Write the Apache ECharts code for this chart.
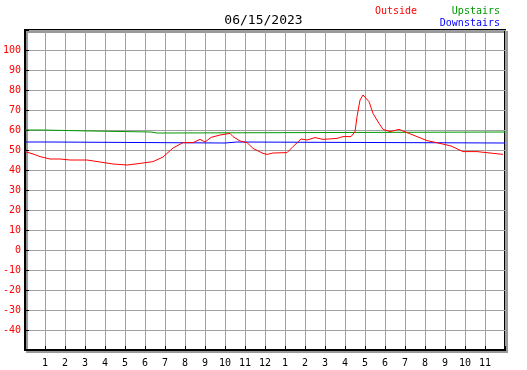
<!DOCTYPE html>
<html>
<head>
<meta charset="utf-8">
<script src="https://cdn.jsdelivr.net/npm/echarts@6/dist/echarts.min.js"></script>
<style>
  html, body { margin: 0; padding: 0; background: #fff; }
  #chart { width: 527px; height: 370px; }
</style>
</head>
<body>
<div id="chart"></div>
<script>
const chartDate = "06/15/2023";

// hours since midnight, temperature
const outsideHours = [0, 0.05, 0.4, 0.75, 1.25, 1.75, 2.25, 3.1, 3.75, 4.4, 5.1, 5.75, 6.4, 6.9, 7.4, 7.9, 8.4, 8.75, 9, 9.3, 9.75, 10.25, 10.4, 10.75, 11.1, 11.4, 11.9, 12.1, 12.4, 13.1, 13.4, 13.8, 14.1, 14.5, 14.9, 15.6, 15.9, 16.3, 16.5, 16.6, 16.75, 16.9, 17.2, 17.4, 17.7, 17.9, 18.25, 18.7, 19.1, 19.6, 20.1, 20.75, 21.3, 21.9, 22.6, 23.25, 23.9];
const outsideTemps = [49.2, 49.2, 48, 46.7, 45.5, 45.5, 45, 45, 44, 43, 42.5, 43.3, 44.2, 46.5, 51, 53.7, 53.7, 55.3, 54, 56.3, 57.5, 58.3, 56.7, 54.5, 53.7, 50.8, 48.3, 47.8, 48.5, 48.7, 51.7, 55.5, 55, 56.2, 55.3, 55.8, 56.7, 56.7, 59.2, 66.7, 75, 77.5, 74.2, 68.3, 63.3, 60.3, 59.2, 60.3, 58.7, 56.7, 54.7, 53.3, 52, 49.2, 49.2, 48.5, 47.8];

const upstairsHours = [0, 0.8, 0.8, 3.3, 3.3, 6.3, 6.4, 6.6, 6.9, 7, 24];
const upstairsTemps = [60, 60, 59.5, 59.5, 59, 59, 58.5, 58.5, 58.5, 59, 59];

const downstairsHours = [0, 1.25, 1.25, 10, 10, 10.6, 10.6, 24];
const downstairsTemps = [54, 54, 53.5, 53.5, 54, 54, 53.5, 53.5];

const yTickMin = -40;
const yTickMax = 100;

const pairs = (xs, ys) => xs.map((x, i) => [x, ys[i]]);

const chart = echarts.init(document.getElementById("chart"));
const mono = "DejaVu Sans Mono";

const option = {
  animation: false,
  backgroundColor: "#fff",
  title: [
    { text: chartDate, left: "center", top: 9, textStyle: { fontFamily: mono, fontSize: 13, fontWeight: "normal", color: "#000" } },
    { text: "Outside", left: 370, top: 1, textStyle: { fontFamily: mono, fontSize: 10, fontWeight: "normal", color: "#ff0000" } },
    { text: "Upstairs", right: 22, top: 1, textStyle: { fontFamily: mono, fontSize: 10, fontWeight: "normal", color: "#009900" } },
    { text: "Downstairs", right: 22, top: 13, textStyle: { fontFamily: mono, fontSize: 10, fontWeight: "normal", color: "#0000ff" } }
  ],
  grid: {
    left: 25, top: 30, width: 480, height: 320,
    show: true,
    backgroundColor: "#fff",
    borderColor: "#000",
    borderWidth: 2,
    shadowColor: "#999",
    shadowBlur: 0,
    shadowOffsetX: 2,
    shadowOffsetY: 2
  },
  xAxis: {
    type: "value",
    min: 0, max: 24, interval: 1,
    axisLine: { show: true, onZero: false, lineStyle: { color: "#000", width: 2 } },
    axisTick: { show: true, inside: true, length: 4, lineStyle: { color: "#000" } },
    axisLabel: {
      fontFamily: mono, fontSize: 10, color: "#000", margin: 8,
      formatter: v => (v === 0 || v === 24) ? "" : String((v - 1) % 12 + 1)
    },
    splitLine: { show: true, lineStyle: { color: "#a0a0a0", width: 1 } }
  },
  yAxis: {
    type: "value",
    min: -50, max: 110, interval: 10,
    axisLine: { show: true, onZero: false, lineStyle: { color: "#000", width: 2 } },
    axisTick: { show: true, inside: true, length: 4, lineStyle: { color: "#000" } },
    axisLabel: {
      fontFamily: mono, fontSize: 10, color: "#ff0000", margin: 4,
      formatter: v => (v < yTickMin || v > yTickMax) ? "" : String(v)
    },
    splitLine: { show: true, lineStyle: { color: "#a0a0a0", width: 1 } }
  },
  series: [
    { name: "Upstairs", type: "line", symbol: "none", data: pairs(upstairsHours, upstairsTemps), lineStyle: { color: "#009900", width: 1 } },
    { name: "Downstairs", type: "line", symbol: "none", data: pairs(downstairsHours, downstairsTemps), lineStyle: { color: "#0000ff", width: 1 } },
    { name: "Outside", type: "line", symbol: "none", data: pairs(outsideHours, outsideTemps), lineStyle: { color: "#ff0000", width: 1 } }
  ]
};

chart.setOption(option);
</script>
</body>
</html>
